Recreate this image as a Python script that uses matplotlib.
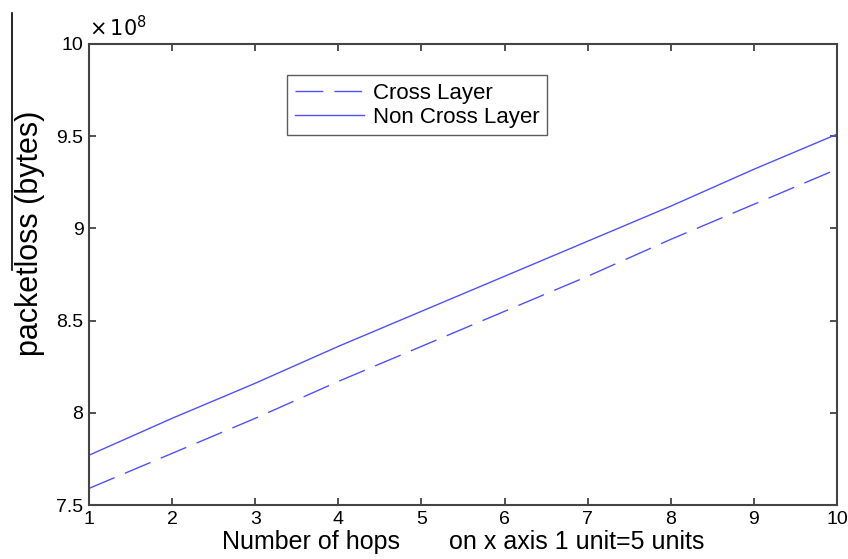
import matplotlib
matplotlib.use("Agg")
import matplotlib.pyplot as plt
from matplotlib.lines import Line2D

plt.rcParams['font.family'] = ['Liberation Sans', 'DejaVu Sans']

hops = [1, 2, 3, 4, 5, 6, 7, 8, 9, 10]
cross_layer = [7.59, 7.78, 7.97, 8.17, 8.36, 8.55, 8.74, 8.94, 9.13, 9.32]
non_cross_layer = [7.77, 7.97, 8.16, 8.36, 8.55, 8.74, 8.93, 9.12, 9.32, 9.51]
xticks = [1, 2, 3, 4, 5, 6, 7, 8, 9, 10]
yticks = [7.5, 8, 8.5, 9, 9.5, 10]
ytick_labels = ['7.5', '8', '8.5', '9', '9.5', '10']

fig = plt.figure(figsize=(8.48, 5.59), dpi=100)
ax = fig.add_axes([0.105, 0.0966, 0.882, 0.825])

color = '#5050ff'
ax.plot(hops, cross_layer, color=color, lw=1.0, dashes=(20, 8), label='Cross Layer')
ax.plot(hops, non_cross_layer, color=color, lw=1.0, label='Non Cross Layer')

ax.set_xlim(1, 10)
ax.set_ylim(7.5, 10)
ax.set_xticks(xticks)
ax.set_xticklabels([str(v) for v in xticks])
ax.set_yticks(yticks)
ax.set_yticklabels(ytick_labels)
ax.tick_params(direction='in', top=True, right=True, length=5, width=1.2,
               labelsize=14, pad=4, colors='#333333', labelcolor='black')
for s in ax.spines.values():
    s.set_linewidth(1.5)
    s.set_color('#444444')

ax.text(0.0, 1.008, r'$\times\,10^{8}$', transform=ax.transAxes, fontsize=15,
        ha='left', va='bottom')

ax.set_xlabel('Number of hops       on x axis 1 unit=5 units', fontsize=18, labelpad=2)
ax.set_ylabel('packetloss (bytes)', fontsize=22)
ax.yaxis.set_label_coords(-0.059, 0.59)

leg = ax.legend(loc='upper left', bbox_to_anchor=(0.265, 0.932), fontsize=16,
                frameon=True, fancybox=False, edgecolor='#333333',
                handlelength=3.1, borderpad=0.35, labelspacing=0.12,
                handletextpad=0.4, borderaxespad=0)
leg.get_frame().set_linewidth(1.0)

fig.add_artist(Line2D([12 / 848, 12 / 848], [1 - 13 / 559, 1 - 270 / 559],
                      transform=fig.transFigure, color='black', lw=1.2))

fig.savefig('out.png', dpi=100)
